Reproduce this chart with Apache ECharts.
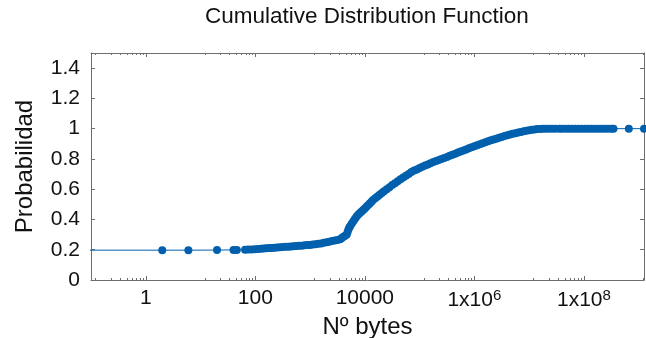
<!DOCTYPE html>
<html>
<head>
<meta charset="utf-8">
<script src="https://cdn.jsdelivr.net/npm/echarts@6/dist/echarts.min.js"></script>
<style>
  html, body { margin: 0; padding: 0; background: #ffffff; }
  #chart { width: 646px; height: 338px; }
</style>
</head>
<body>
<div id="chart"></div>
<script>
// Text
const titleText = 'Cumulative Distribution Function';
const xAxisName = 'Nº bytes';
const yAxisName = 'Probabilidad';

// Axis ranges and tick values
const xMin = 0.1;
const xMax = 1.25e9;
const xMajorTicks = [1, 100, 10000, 1e6, 1e8];
const yMin = 0;
const yMax = 1.5;
const yStep = 0.2;

// CDF samples: [bytes, probability]
const lowTail = [
  [0.05, 0.197], [2, 0.197], [6, 0.197], [20, 0.198], [40, 0.199], [46, 0.199],
  [65, 0.2], [74, 0.201], [85, 0.202], [98, 0.203], [112, 0.205]
];
const riseSamples = [
  [126, 0.207], [141, 0.208], [158, 0.21], [178, 0.211], [200, 0.212], [224, 0.213],
  [251, 0.215], [282, 0.216], [316, 0.218], [355, 0.219], [398, 0.22], [447, 0.222],
  [501, 0.223], [562, 0.224], [631, 0.226], [708, 0.227], [794, 0.229], [891, 0.231],
  [1000, 0.232], [1120, 0.234], [1260, 0.236], [1410, 0.239], [1590, 0.242], [1780, 0.246],
  [2000, 0.25], [2240, 0.253], [2510, 0.257], [2820, 0.261], [3160, 0.265], [3550, 0.27],
  [3800, 0.278], [4070, 0.285], [4370, 0.292], [4680, 0.3], [4840, 0.318], [5010, 0.334],
  [5190, 0.345], [5370, 0.355], [5750, 0.372], [6170, 0.388], [6610, 0.404], [7080, 0.419],
  [7590, 0.433], [8130, 0.443], [8710, 0.452], [9330, 0.462], [10000, 0.473], [10700, 0.484],
  [11500, 0.495], [12300, 0.506], [13200, 0.517], [14100, 0.528], [15500, 0.54], [17000, 0.552],
  [18600, 0.563], [20400, 0.575], [22400, 0.586], [25100, 0.6], [28200, 0.613], [31600, 0.627],
  [35500, 0.64], [39800, 0.653], [44700, 0.665], [50100, 0.677], [56200, 0.689], [63100, 0.701],
  [70800, 0.713], [79400, 0.723], [89100, 0.731], [100000, 0.74], [112000, 0.748], [126000, 0.756],
  [141000, 0.764], [158000, 0.772], [178000, 0.779], [200000, 0.786], [224000, 0.793], [251000, 0.8],
  [282000, 0.806], [316000, 0.813], [355000, 0.821], [398000, 0.828], [447000, 0.835], [501000, 0.842],
  [562000, 0.849], [631000, 0.856], [708000, 0.863], [794000, 0.87], [891000, 0.877], [1000000, 0.884],
  [1120000, 0.891], [1260000, 0.897], [1410000, 0.904], [1590000, 0.91], [1780000, 0.917], [2000000, 0.923],
  [2240000, 0.929], [2510000, 0.934], [2820000, 0.94], [3160000, 0.945], [3550000, 0.951], [3980000, 0.956],
  [4470000, 0.961], [5010000, 0.966], [5620000, 0.97], [6310000, 0.974], [7080000, 0.978], [7940000, 0.983],
  [8910000, 0.987], [10000000, 0.99], [11200000, 0.993], [12600000, 0.995], [14100000, 0.997], [15800000, 0.998],
  [17800000, 0.999], [20000000, 0.999]
];
const upperTail = [
  [22900000, 1], [26300000, 1], [30200000, 1], [35500000, 1], [39800000, 1], [45700000, 1],
  [52500000, 1], [60300000, 1], [69200000, 1], [79400000, 1], [91200000, 1], [105000000, 1],
  [120000000, 1], [138000000, 1], [158000000, 1], [182000000, 1], [209000000, 1], [240000000, 1],
  [275000000, 1], [316000000, 1], [347000000, 1], [660000000, 1], [1250000000, 1]
];

const cdfData = lowTail.concat(riseSamples, upperTail);

// Minor ticks: evenly spaced (linear) between consecutive major ticks
const majorsWithLead = [0.01].concat(xMajorTicks, [1e10]);
const xMinorTicks = [];
for (let i = 0; i < majorsWithLead.length - 1; i++) {
  const a = majorsWithLead[i], b = majorsWithLead[i + 1];
  for (let k = 1; k <= 8; k++) {
    const v = a + k * (b - a) / 9;
    if (v > xMin && v < xMax) xMinorTicks.push(v);
  }
}

const frameColor = '#6e6e6e';
const textColor = '#111111';
const fontFamily = '"Liberation Sans", Arial, sans-serif';

function xLabel(value) {
  const exp = Math.round(Math.log10(value));
  if (exp >= 6) return '1x10{sup|' + exp + '}';
  return String(Math.round(value));
}

function logXAxis(extra) {
  return Object.assign({
    type: 'log',
    min: xMin,
    max: xMax,
    gridIndex: 0,
    splitLine: { show: false },
    minorTick: { show: false },
    axisLine: { show: false },
    axisLabel: { show: false },
    axisTick: { show: false }
  }, extra);
}

const chart = echarts.init(document.getElementById('chart'), null, { renderer: 'canvas' });

chart.setOption({
  animation: false,
  backgroundColor: '#ffffff',
  title: {
    text: titleText,
    left: 200,
    top: 0,
    textStyle: { fontFamily: fontFamily, fontSize: 22.5, fontWeight: 'normal', color: textColor }
  },
  grid: {
    left: 91, right: 2, top: 53, bottom: 58,
    containLabel: false,
    outerBoundsMode: 'none'
  },
  xAxis: [
    logXAxis({
      position: 'bottom',
      name: xAxisName,
      nameLocation: 'middle',
      nameGap: 31,
      nameTextStyle: { fontFamily: fontFamily, fontSize: 24, color: textColor },
      axisLine: { show: true, lineStyle: { color: frameColor, width: 1 } },
      axisTick: { show: true, inside: true, length: 4, customValues: xMajorTicks, lineStyle: { color: frameColor } },
      axisLabel: {
        show: true,
        customValues: xMajorTicks,
        margin: 8,
        fontFamily: fontFamily,
        fontSize: 21,
        color: textColor,
        formatter: xLabel,
        rich: {
          sup: { fontFamily: fontFamily, fontSize: 15, color: textColor, padding: [0, 0, 9, 0] }
        }
      }
    }),
    logXAxis({
      position: 'bottom',
      axisTick: { show: true, inside: true, length: 2, customValues: xMinorTicks, lineStyle: { color: frameColor } }
    }),
    logXAxis({
      position: 'top',
      axisLine: { show: true, lineStyle: { color: frameColor, width: 1 } },
      axisTick: { show: true, inside: true, length: 4, customValues: xMajorTicks, lineStyle: { color: frameColor } }
    }),
    logXAxis({
      position: 'top',
      axisTick: { show: true, inside: true, length: 2, customValues: xMinorTicks, lineStyle: { color: frameColor } }
    })
  ],
  yAxis: [
    {
      type: 'value',
      position: 'left',
      min: yMin,
      max: yMax,
      interval: yStep,
      name: yAxisName,
      nameLocation: 'middle',
      nameGap: 54,
      nameRotate: 90,
      nameTextStyle: { fontFamily: fontFamily, fontSize: 24, color: textColor },
      splitLine: { show: false },
      axisLine: { show: true, lineStyle: { color: frameColor, width: 1 } },
      axisTick: { show: true, inside: true, length: 4, lineStyle: { color: frameColor } },
      axisLabel: {
        margin: 11,
        fontFamily: fontFamily,
        fontSize: 21,
        color: textColor,
        showMaxLabel: false
      }
    },
    {
      type: 'value',
      position: 'right',
      min: yMin,
      max: yMax,
      interval: yStep,
      splitLine: { show: false },
      axisLine: { show: true, lineStyle: { color: frameColor, width: 1 } },
      axisTick: { show: true, inside: true, length: 4, lineStyle: { color: frameColor } },
      axisLabel: { show: false }
    }
  ],
  series: [
    {
      type: 'line',
      xAxisIndex: 0,
      yAxisIndex: 0,
      data: cdfData,
      showSymbol: true,
      showAllSymbol: true,
      symbol: 'circle',
      symbolSize: 8,
      itemStyle: { color: '#0060ad' },
      lineStyle: { color: '#0060ad', width: 1 },
      clip: true,
      emphasis: { disabled: true }
    }
  ]
});
</script>
</body>
</html>
